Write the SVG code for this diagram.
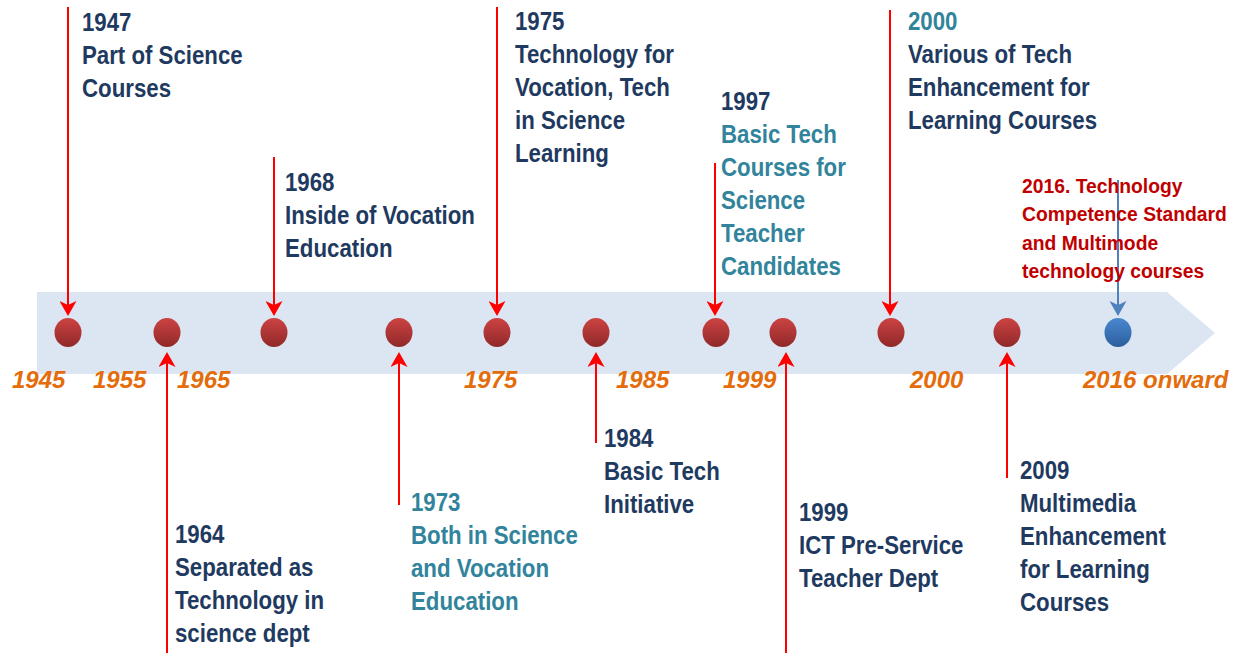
<svg xmlns="http://www.w3.org/2000/svg" width="1242" height="653" viewBox="0 0 1242 653">
  <defs>
    <style>
      .band { fill: #dce6f2; }
      .lbl { font-family: "Liberation Sans", Arial, sans-serif; font-weight: bold; font-size: 25px; }
      .navy { fill: #1f3a60; }
      .teal { fill: #31849b; }
      .red-t { fill: #c00000; font-size: 21px; }
      .yr { font-family: "Liberation Sans", Arial, sans-serif; font-weight: bold; font-style: italic; font-size: 24px; fill: #e46c0a; }
      .conn { stroke: #ff0000; stroke-width: 2; fill: none; marker-end: url(#head-red); }
      .conn-blue { stroke: #4f81bd; stroke-width: 2; fill: none; marker-end: url(#head-blue); }
      .dot { fill: url(#dotRed); }
      .dot-blue { fill: url(#dotBlue); }
    </style>
    <linearGradient id="dotRed" x1="0" y1="0" x2="0" y2="1">
      <stop offset="0" stop-color="#cd4343"/>
      <stop offset="1" stop-color="#902828"/>
    </linearGradient>
    <linearGradient id="dotBlue" x1="0" y1="0" x2="0" y2="1">
      <stop offset="0" stop-color="#4a88d0"/>
      <stop offset="1" stop-color="#2c5e9c"/>
    </linearGradient>
    <marker id="head-red" viewBox="0 0 15 17" refX="4" refY="8.5" markerWidth="15" markerHeight="17" markerUnits="userSpaceOnUse" orient="auto">
      <path d="M0,0 L15,8.5 L0,17 L4,8.5 Z" fill="#ff0000"/>
    </marker>
    <marker id="head-blue" viewBox="0 0 15 17" refX="4" refY="8.5" markerWidth="15" markerHeight="17" markerUnits="userSpaceOnUse" orient="auto">
      <path d="M0,0 L15,8.5 L0,17 L4,8.5 Z" fill="#4f81bd"/>
    </marker>
  </defs>

  <rect width="1242" height="653" fill="#ffffff"/>

  <!-- timeline band -->
  <polygon id="band" class="band" points="37,292 1167,292 1215,333 1167,374 37,374"/>

  <!-- era labels along the band -->
  <g id="eras">
    <text class="yr" x="12" y="388">1945</text>
    <text class="yr" x="93" y="388">1955</text>
    <text class="yr" x="177" y="388">1965</text>
    <text class="yr" x="464" y="388">1975</text>
    <text class="yr" x="616" y="388">1985</text>
    <text class="yr" x="723" y="388">1999</text>
    <text class="yr" x="910" y="388">2000</text>
    <text class="yr" x="1083" y="388">2016 onward</text>
  </g>

  <!-- milestone dots -->
  <g id="dots">
    <ellipse id="dot-1947" class="dot" cx="68" cy="332.5" rx="13.5" ry="14.5"/>
    <ellipse id="dot-1964" class="dot" cx="167" cy="332.5" rx="13.5" ry="14.5"/>
    <ellipse id="dot-1968" class="dot" cx="274" cy="332.5" rx="13.5" ry="14.5"/>
    <ellipse id="dot-1973" class="dot" cx="399" cy="332.5" rx="13.5" ry="14.5"/>
    <ellipse id="dot-1975" class="dot" cx="497" cy="332.5" rx="13.5" ry="14.5"/>
    <ellipse id="dot-1984" class="dot" cx="596" cy="332.5" rx="13.5" ry="14.5"/>
    <ellipse id="dot-1997" class="dot" cx="716" cy="332.5" rx="13.5" ry="14.5"/>
    <ellipse id="dot-1999" class="dot" cx="783" cy="332.5" rx="13.5" ry="14.5"/>
    <ellipse id="dot-2000" class="dot" cx="891" cy="332.5" rx="13.5" ry="14.5"/>
    <ellipse id="dot-2009" class="dot" cx="1007" cy="332.5" rx="13.5" ry="14.5"/>
    <ellipse id="dot-2016" class="dot-blue" cx="1118" cy="332.5" rx="13.5" ry="14.5"/>
  </g>

  <!-- callout connectors -->
  <g id="connectors">
    <line class="conn" x1="68" y1="7" x2="68" y2="305"/>
    <line class="conn" x1="274" y1="157" x2="274" y2="305"/>
    <line class="conn" x1="497" y1="7" x2="497" y2="305"/>
    <line class="conn" x1="715" y1="163" x2="715" y2="305"/>
    <line class="conn" x1="890" y1="10" x2="890" y2="305"/>
    <line class="conn-blue" x1="1118" y1="180" x2="1118" y2="305"/>
    <line class="conn" x1="167" y1="653" x2="167" y2="363"/>
    <line class="conn" x1="399" y1="505" x2="399" y2="363"/>
    <line class="conn" x1="596" y1="443" x2="596" y2="363"/>
    <line class="conn" x1="786" y1="653" x2="786" y2="363"/>
    <line class="conn" x1="1007" y1="478" x2="1007" y2="363"/>
  </g>

  <!-- milestone captions -->
  <g id="event-1947">
    <text class="lbl navy" transform="translate(82,31) scale(0.89,1)"><tspan x="0" y="0">1947</tspan><tspan x="0" dy="33">Part of Science</tspan><tspan x="0" dy="33">Courses</tspan></text>
  </g>
  <g id="event-1964">
    <text class="lbl navy" transform="translate(175,543) scale(0.89,1)"><tspan x="0" y="0">1964</tspan><tspan x="0" dy="33">Separated as</tspan><tspan x="0" dy="33">Technology in</tspan><tspan x="0" dy="33">science dept</tspan></text>
  </g>
  <g id="event-1968">
    <text class="lbl navy" transform="translate(285,191) scale(0.89,1)"><tspan x="0" y="0">1968</tspan><tspan x="0" dy="33">Inside of Vocation</tspan><tspan x="0" dy="33">Education</tspan></text>
  </g>
  <g id="event-1973">
    <text class="lbl teal" transform="translate(411,511) scale(0.89,1)"><tspan x="0" y="0">1973</tspan><tspan x="0" dy="33">Both in Science</tspan><tspan x="0" dy="33">and Vocation</tspan><tspan x="0" dy="33">Education</tspan></text>
  </g>
  <g id="event-1975">
    <text class="lbl navy" transform="translate(515,30) scale(0.89,1)"><tspan x="0" y="0">1975</tspan><tspan x="0" dy="33">Technology for</tspan><tspan x="0" dy="33">Vocation, Tech</tspan><tspan x="0" dy="33">in Science</tspan><tspan x="0" dy="33">Learning</tspan></text>
  </g>
  <g id="event-1984">
    <text class="lbl navy" transform="translate(604,447) scale(0.89,1)"><tspan x="0" y="0">1984</tspan><tspan x="0" dy="33">Basic Tech</tspan><tspan x="0" dy="33">Initiative</tspan></text>
  </g>
  <g id="event-1997">
    <text class="lbl teal" transform="translate(721,110) scale(0.89,1)"><tspan x="0" y="0" class="navy">1997</tspan><tspan x="0" dy="33">Basic Tech</tspan><tspan x="0" dy="33">Courses for</tspan><tspan x="0" dy="33">Science</tspan><tspan x="0" dy="33">Teacher</tspan><tspan x="0" dy="33">Candidates</tspan></text>
  </g>
  <g id="event-1999">
    <text class="lbl navy" transform="translate(799,521) scale(0.89,1)"><tspan x="0" y="0">1999</tspan><tspan x="0" dy="33">ICT Pre-Service</tspan><tspan x="0" dy="33">Teacher Dept</tspan></text>
  </g>
  <g id="event-2000">
    <text class="lbl navy" transform="translate(908,30) scale(0.89,1)"><tspan x="0" y="0" class="teal">2000</tspan><tspan x="0" dy="33">Various of Tech</tspan><tspan x="0" dy="33">Enhancement for</tspan><tspan x="0" dy="33">Learning Courses</tspan></text>
  </g>
  <g id="event-2009">
    <text class="lbl navy" transform="translate(1020,479) scale(0.89,1)"><tspan x="0" y="0">2009</tspan><tspan x="0" dy="33">Multimedia</tspan><tspan x="0" dy="33">Enhancement</tspan><tspan x="0" dy="33">for Learning</tspan><tspan x="0" dy="33">Courses</tspan></text>
  </g>
  <g id="event-2016">
    <text class="lbl red-t" transform="translate(1022,193) scale(0.92,1)"><tspan x="0" y="0">2016. Technology</tspan><tspan x="0" dy="28.5">Competence Standard</tspan><tspan x="0" dy="28.5">and Multimode</tspan><tspan x="0" dy="28.5">technology courses</tspan></text>
  </g>
</svg>
